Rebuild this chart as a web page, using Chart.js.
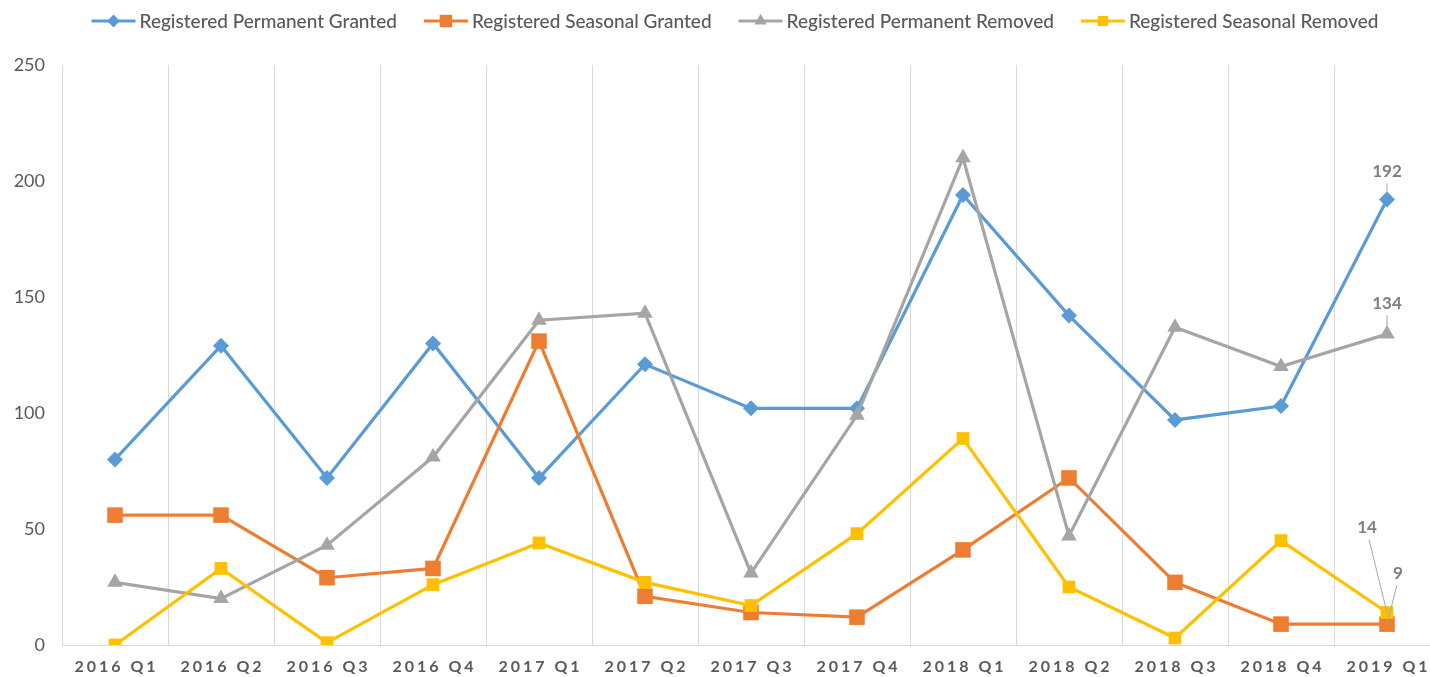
<!DOCTYPE html>
<html>
<head>
<meta charset="utf-8">
<script src="https://cdn.jsdelivr.net/npm/chart.js@4.4.1/dist/chart.umd.min.js"></script>
<style>
  html, body { margin: 0; padding: 0; background: #fff; overflow: hidden; }
  #wrap { width: 1445px; height: 677px; }
</style>
</head>
<body>
<div id="wrap"><canvas id="chart" width="1445" height="677"></canvas></div>
<script>
const quarters = ['2016 Q1','2016 Q2','2016 Q3','2016 Q4','2017 Q1','2017 Q2','2017 Q3','2017 Q4','2018 Q1','2018 Q2','2018 Q3','2018 Q4','2019 Q1'];

const permanentGranted = [80, 129, 72, 130, 72, 121, 102, 102, 194, 142, 97, 103, 192];
const seasonalGranted  = [56, 56, 29, 33, 131, 21, 14, 12, 41, 72, 27, 9, 9];
const permanentRemoved = [27, 20, 43, 81, 140, 143, 31, 99, 210, 47, 137, 120, 134];
const seasonalRemoved  = [0, 33, 1, 26, 44, 27, 17, 48, 89, 25, 3, 45, 14];

const yTicks = [0, 50, 100, 150, 200, 250];

const TEXT = '#595959';
const FONT = 'Lato, "Open Sans", sans-serif';

// legend drawn by hand so the icon can show line + marker like Excel
const legendPlugin = {
    id: 'excelLegend',
    afterDraw(chart) {
        const ctx = chart.ctx;
        const sets = chart.data.datasets;
        const iconW = 44, gap = 4, itemGap = 27;
        ctx.save();
        ctx.font = '500 19px ' + FONT;
        const widths = sets.map(d => ctx.measureText(d.label).width);
        const total = widths.reduce((a, b) => a + b, 0) + sets.length * (iconW + gap) + (sets.length - 1) * itemGap;
        let x = 735 - total / 2;
        const y = 21;
        sets.forEach((d, i) => {
            ctx.strokeStyle = d.borderColor;
            ctx.lineWidth = 3;
            ctx.beginPath();
            ctx.moveTo(x, y);
            ctx.lineTo(x + iconW, y);
            ctx.stroke();
            ctx.fillStyle = d.borderColor;
            Chart.helpers.drawPoint(ctx, {
                pointStyle: d.pointStyle, radius: d.pointRadius * 0.8, borderWidth: 0
            }, x + iconW / 2, y);
            ctx.fillStyle = TEXT;
            ctx.textBaseline = 'middle';
            ctx.textAlign = 'left';
            ctx.fillText(d.label, x + iconW + gap, y + 1);
            x += iconW + gap + widths[i] + itemGap;
        });
        ctx.restore();
    }
};

// x labels: bold with letter spacing
const xLabelPlugin = {
    id: 'xLabels',
    afterDraw(chart) {
        const ctx = chart.ctx;
        const xs = chart.scales.x;
        ctx.save();
        ctx.font = 'bold 16px ' + FONT;
        ctx.letterSpacing = '3px';
        ctx.fillStyle = TEXT;
        ctx.textAlign = 'center';
        ctx.textBaseline = 'middle';
        quarters.forEach((q, i) => {
            ctx.fillText(q, xs.getPixelForValue(i) + 1.5, 667);
        });
        ctx.restore();
    }
};

// data labels on the last quarter
const lastLabelPlugin = {
    id: 'lastLabels',
    afterDatasetsDraw(chart) {
        const ctx = chart.ctx;
        const xs = chart.scales.x, ys = chart.scales.y;
        const n = quarters.length - 1;
        const px = xs.getPixelForValue(n);
        const specs = [
            { v: permanentGranted[n], dx: 0, dy: -28, lead: false },
            { v: permanentRemoved[n], dx: 0, dy: -31, lead: false },
            { v: seasonalRemoved[n], dx: -20, dy: -85, lead: true },
            { v: seasonalGranted[n], dx: 11, dy: -51, lead: true }
        ];
        ctx.save();
        ctx.font = 'bold 17px ' + FONT;
        ctx.fillStyle = '#7f7f7f';
        ctx.textAlign = 'center';
        ctx.textBaseline = 'middle';
        specs.forEach(s => {
            const py = ys.getPixelForValue(s.v);
            ctx.fillText(String(s.v), px + s.dx, py + s.dy);
            ctx.strokeStyle = '#a6a6a6';
            ctx.lineWidth = 1;
            ctx.beginPath();
            if (s.lead) {
                ctx.moveTo(px + s.dx * 0.9, py + s.dy + 12);
                ctx.lineTo(px, py);
            } else {
                ctx.moveTo(px, py + s.dy + 12);
                ctx.lineTo(px, py - 8);
            }
            ctx.stroke();
        });
        ctx.restore();
    }
};

function series(label, data, color, style, radius, order) {
    return {
        label, data, order,
        borderColor: color,
        backgroundColor: color,
        borderWidth: 3.2,
        pointStyle: style,
        pointRadius: radius,
        pointBorderWidth: 0,
        pointBackgroundColor: color,
        tension: 0
    };
}

new Chart(document.getElementById('chart'), {
    type: 'line',
    data: {
        labels: quarters,
        datasets: [
            series('Registered Permanent Granted', permanentGranted, '#5b9bd5', 'rectRot', 8, 3),
            series('Registered Seasonal Granted', seasonalGranted, '#ed7d31', 'rect', 11, 2),
            series('Registered Permanent Removed', permanentRemoved, '#a5a5a5', 'triangle', 9, 1),
            series('Registered Seasonal Removed', seasonalRemoved, '#ffc000', 'rect', 9, 0)
        ]
    },
    options: {
        responsive: false,
        animation: false,
        layout: { autoPadding: false, padding: { top: 65, right: 5, left: 0, bottom: 0 } },
        plugins: {
            legend: { display: false },
            tooltip: { enabled: false }
        },
        scales: {
            x: {
                offset: true,
                grid: { offset: true, color: '#d9d9d9', lineWidth: 1, drawTicks: false },
                border: { display: true, color: '#d9d9d9' },
                ticks: { display: false },
                afterFit(scale) { scale.height = 32; }
            },
            y: {
                min: 0,
                max: 250,
                afterBuildTicks(scale) { scale.ticks = yTicks.map(v => ({ value: v })); },
                grid: { display: false, drawTicks: false },
                border: { display: false },
                ticks: { color: TEXT, font: { family: FONT, size: 18 }, padding: 17 },
                afterFit(scale) { scale.width = 62; }
            }
        }
    },
    plugins: [legendPlugin, xLabelPlugin, lastLabelPlugin]
});
</script>
</body>
</html>
